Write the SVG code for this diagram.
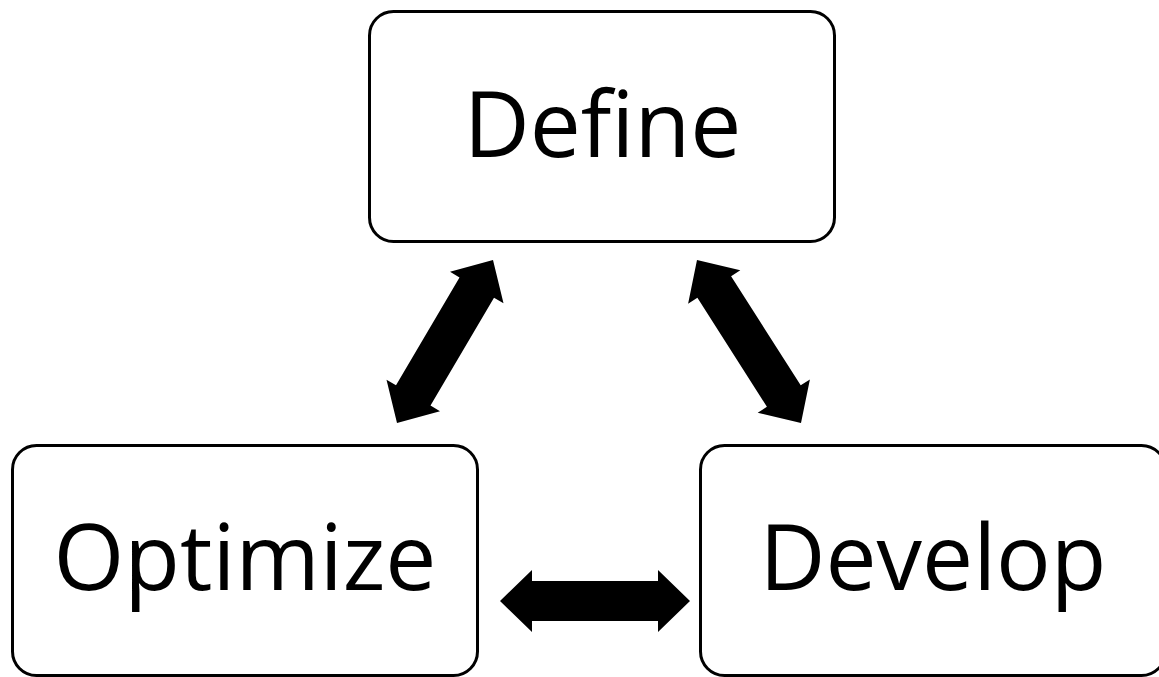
<svg xmlns="http://www.w3.org/2000/svg" width="1159" height="677" viewBox="0 0 1159 677">
  <style>
    .box { fill: #ffffff; stroke: #000000; stroke-width: 3; }
    .label { font-family: "Open Sans", "Liberation Sans", sans-serif; font-size: 91px; fill: #000000; text-anchor: middle; }
    .arrow { fill: #000000; stroke: none; }
  </style>
  <rect width="1159" height="677" fill="#ffffff"/>

  <!-- double-headed block arrows between the three stages -->
  <g id="connectors">
    <polygon class="arrow" points="493,260 503.5,303.3 494,297.7 430.5,405.6 440,411.2 397,423 386.5,379.7 396,385.3 459.5,277.4 450,271.8"/>
    <polygon class="arrow" points="697,260 740.3,270.3 731.1,276.2 800.7,385.3 809.9,379.4 801,423 757.7,412.7 766.9,406.8 697.4,297.7 688.1,303.7"/>
    <polygon class="arrow" points="500,601 532,570 532,581 658,581 658,570 690,601 658,632 658,621 532,621 532,632"/>
  </g>

  <g id="define">
    <rect class="box" x="369.5" y="11.5" width="465" height="230" rx="24" ry="24"/>
    <text class="label" x="602.5" y="157">Define</text>
  </g>

  <g id="optimize">
    <rect class="box" x="12.5" y="445.5" width="465" height="230" rx="24" ry="24"/>
    <text class="label" x="245" y="590">Optimize</text>
  </g>

  <g id="develop">
    <rect class="box" x="700.5" y="445.5" width="465" height="230" rx="24" ry="24"/>
    <text class="label" x="933" y="590">Develop</text>
  </g>
</svg>
